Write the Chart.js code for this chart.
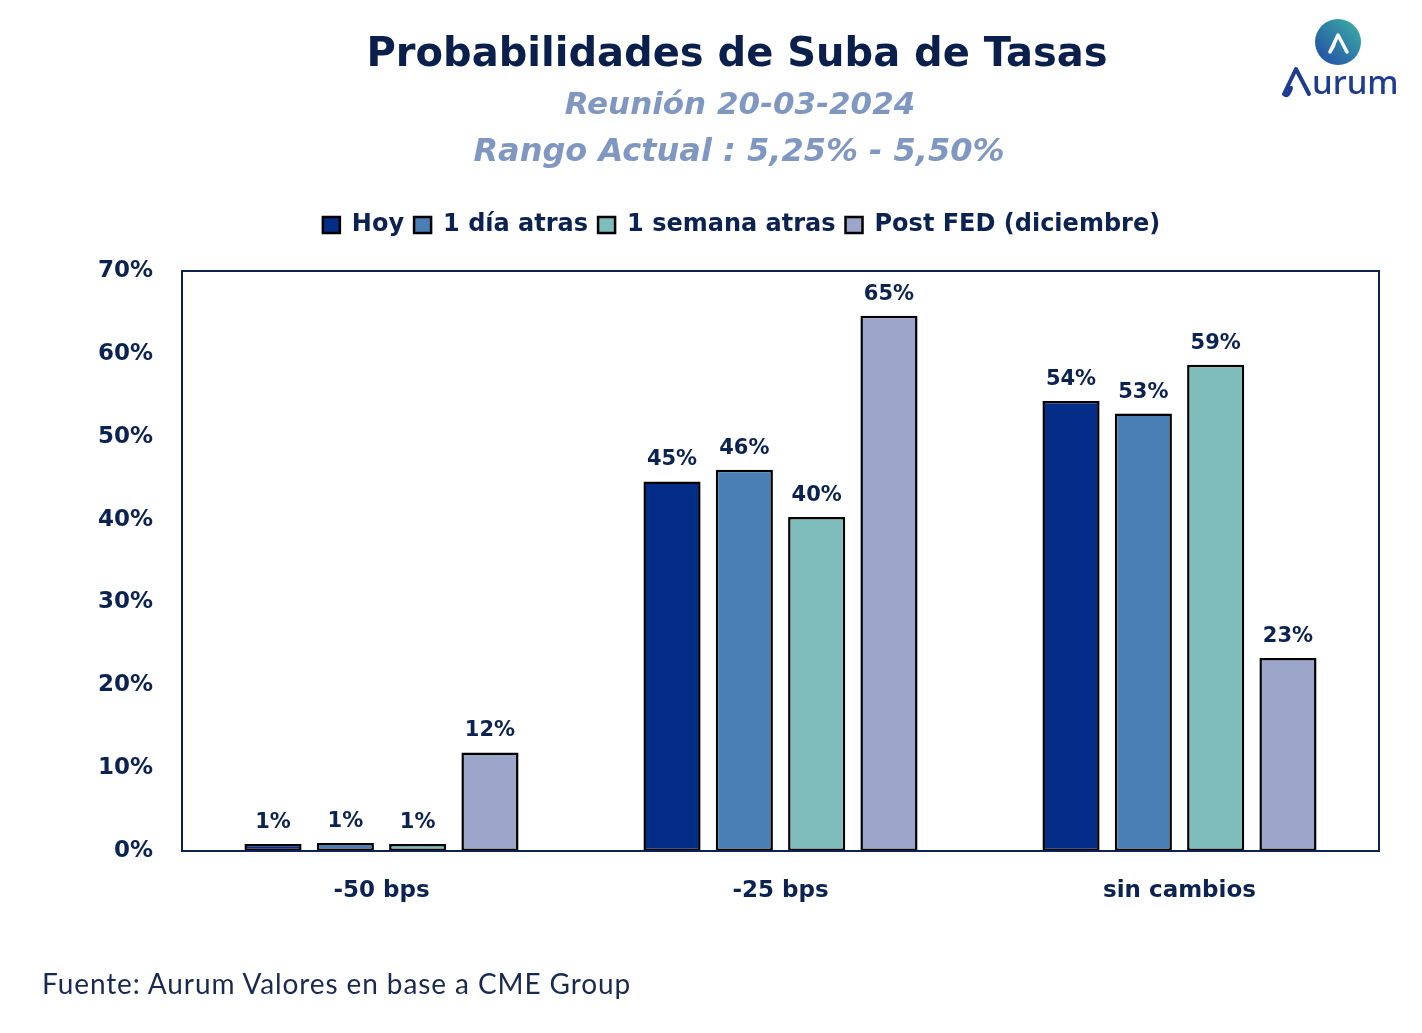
<!DOCTYPE html>
<html>
<head>
<meta charset="utf-8">
<script src="https://cdn.jsdelivr.net/npm/chart.js@4.4.1/dist/chart.umd.min.js"></script>
<style>
html,body{margin:0;padding:0;background:#fff;width:1422px;height:1033px;overflow:hidden;}
#wrap{position:absolute;left:0;top:0;width:1422px;height:1033px;}
canvas{display:block;}
.t{position:absolute;white-space:nowrap;transform:translateX(-50%);font-family:'DejaVu Sans',sans-serif;font-weight:bold;line-height:1;}
#title{left:737px;top:32px;font-size:40px;color:#0b1f4d;}
.sub{font-style:italic;color:#8097c1;}
#sub1{left:740px;top:88px;font-size:31px;}
#sub2{left:739px;top:134px;font-size:32px;}
#foot{position:absolute;left:42px;top:969px;font-family:'Lato',sans-serif;font-size:28px;letter-spacing:0.9px;color:#1a2a4f;white-space:nowrap;line-height:1;}
#logo{position:absolute;left:1276px;top:14px;}
</style>
</head>
<body>
<div id="wrap">
  <canvas id="c" width="1422" height="1033"></canvas>
  <div id="title" class="t">Probabilidades de Suba de Tasas</div>
  <div id="sub1" class="t sub">Reunión 20-03-2024</div>
  <div id="sub2" class="t sub">Rango Actual : 5,25% - 5,50%</div>
  <div id="foot">Fuente: Aurum Valores en base a CME Group</div>
  <svg id="logo" width="130" height="90" viewBox="0 0 130 90">
    <defs>
      <linearGradient id="g" x1="0" y1="1" x2="1" y2="0">
        <stop offset="0" stop-color="#2146a8"/>
        <stop offset="1" stop-color="#3db3a3"/>
      </linearGradient>
    </defs>
    <circle cx="62" cy="28" r="23" fill="url(#g)"/>
    <path d="M54 38 L62 21 L71 38 M54 38 L58 31" fill="none" stroke="#fff" stroke-width="3.5" stroke-linecap="round" stroke-linejoin="round"/>
    <path d="M8 80 L20 55 L33 80 M8 80 Q12 84 15 74" fill="none" stroke="#1f3c8f" stroke-width="4" stroke-linecap="round" stroke-linejoin="round"/>
    <text x="36" y="80" font-family="'Noto Sans',sans-serif" font-size="33" font-weight="500" fill="#1f3c8f">urum</text>
  </svg>
</div>
<script>
// ---- data ----
const categories = ['-50 bps', '-25 bps', 'sin cambios'];
const seriesNames = ['Hoy', '1 día atras', '1 semana atras', 'Post FED (diciembre)'];
const hoy = [0.85, 44.6, 54.3];
const unDiaAtras = [0.97, 46.0, 52.8];
const unaSemanaAtras = [0.85, 40.3, 58.7];
const postFed = [11.9, 64.6, 23.3];
const yTickValues = [0, 10, 20, 30, 40, 50, 60, 70];
const yTickLabels = ['0%', '10%', '20%', '30%', '40%', '50%', '60%', '70%'];

const seriesColors = ['#032d87', '#4a7fb5', '#7fbcbc', '#9ca6ca'];
const navy = '#0c2352';

Chart.defaults.font.family = "'DejaVu Sans', sans-serif";

const legendSpacer = {
  id: 'legendSpacer',
  beforeUpdate(chart) {
    const lg = chart.legend;
    if (lg && !lg._patched) {
      const origFit = lg.fit;
      lg.fit = function () { origFit.call(this); this.height = 68; };
      const origDraw = lg.draw;
      lg.draw = function () {
        const c = this.ctx;
        c.save();
        c.translate(52, 0);
        origDraw.apply(this, arguments);
        c.restore();
      };
      lg._patched = true;
    }
  }
};

const frame = {
  id: 'frame',
  afterDatasetsDraw(chart) {
    const { ctx, chartArea: a } = chart;
    ctx.save();
    ctx.strokeStyle = navy;
    ctx.lineWidth = 2;
    ctx.strokeRect(a.left, a.top, a.right - a.left, a.bottom - a.top);
    ctx.restore();
  }
};

const valueLabels = {
  id: 'valueLabels',
  afterDatasetsDraw(chart) {
    const ctx = chart.ctx;
    ctx.save();
    ctx.font = "bold 21px 'DejaVu Sans', sans-serif";
    ctx.fillStyle = navy;
    ctx.textAlign = 'center';
    ctx.textBaseline = 'alphabetic';
    chart.data.datasets.forEach((ds, i) => {
      const meta = chart.getDatasetMeta(i);
      meta.data.forEach((bar, j) => {
        ctx.fillText(Math.round(ds.data[j]) + '%', bar.x, bar.y - 16);
      });
    });
    ctx.restore();
  }
};

const seriesData = [hoy, unDiaAtras, unaSemanaAtras, postFed];

new Chart(document.getElementById('c'), {
  type: 'bar',
  data: {
    labels: categories,
    datasets: seriesNames.map((n, i) => ({
      label: n,
      data: seriesData[i],
      backgroundColor: seriesColors[i],
      borderColor: '#000',
      borderWidth: 2.5,
      borderSkipped: false,
      categoryPercentage: 0.725,
      barPercentage: 0.79
    }))
  },
  options: {
    responsive: false,
    animation: false,
    devicePixelRatio: 1,
    layout: { padding: { left: 0, right: 43, top: 203, bottom: 102 } },
    plugins: {
      title: { display: false },
      tooltip: { enabled: false },
      legend: {
        display: true,
        position: 'top',
        labels: {
          boxWidth: 17,
          boxHeight: 16,
          padding: 10,
          color: navy,
          font: { size: 24, weight: 'bold' }
        }
      }
    },
    scales: {
      x: {
        grid: { display: false, drawTicks: false },
        border: { display: true, color: navy, width: 2 },
        ticks: { color: navy, font: { size: 23, weight: 'bold' }, padding: 26 },
        afterFit(s) { s.height = 80; }
      },
      y: {
        min: 0, max: 70,
        afterBuildTicks(s) { s.ticks = yTickValues.map(v => ({ value: v })); },
        grid: { display: false, drawTicks: false },
        border: { display: true, color: navy, width: 2 },
        ticks: {
          color: navy,
          font: { size: 23, weight: 'bold' },
          padding: 29,
          callback(v) { const k = yTickValues.indexOf(v); return k >= 0 ? yTickLabels[k] : ''; }
        },
        afterFit(s) { s.width = 182; }
      }
    }
  },
  plugins: [legendSpacer, valueLabels, frame]
});
</script>
</body>
</html>
